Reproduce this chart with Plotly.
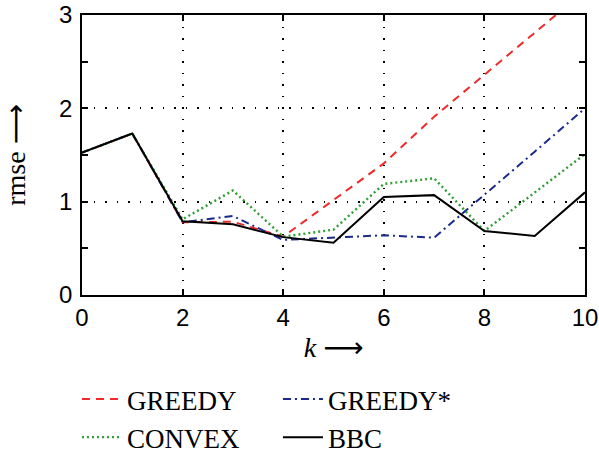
import plotly.graph_objects as go

k = [0, 1, 2, 3, 4, 5, 6, 7, 8, 9, 10]
greedy = [1.525, 1.73, 0.78, 0.785, 0.625, 1.02, 1.41, 1.91, 2.36, 2.80, 3.26]
greedy_star = [1.525, 1.73, 0.78, 0.846, 0.59, 0.618, 0.64, 0.614, 1.07, 1.535, 2.0]
convex = [1.525, 1.73, 0.81, 1.12, 0.625, 0.70, 1.19, 1.25, 0.686, 1.10, 1.51]
bbc = [1.525, 1.73, 0.79, 0.757, 0.62, 0.56, 1.05, 1.07, 0.686, 0.632, 1.10]

names = ["GREEDY", "GREEDY*", "CONVEX", "BBC"]
colors = ["#ee2a2a", "#1a2a8c", "#2e9e35", "#000000"]
dashes = ["8px,6px", "8px,4px,2px,4px", "2px,3px", "solid"]
widths = [2, 2, 2.4, 2]
series = [greedy, greedy_star, convex, bbc]

fig = go.Figure()
for n, y, c, d, w in zip(names, series, colors, dashes, widths):
    fig.add_trace(go.Scatter(x=k, y=y, mode="lines", name=n,
                             line=dict(color=c, dash=d, width=w)))

axis_common = dict(showline=True, linecolor="black", linewidth=1.8, mirror="allticks",
                   ticks="inside", ticklen=6, tickcolor="black", tickwidth=1.5,
                   showgrid=True, gridcolor="black", griddash="1.5px,10px", gridwidth=1.5,
                   zeroline=False, automargin=False,
                   tickfont=dict(family="Liberation Sans", size=24, color="black"))

title_font = dict(family="Liberation Serif, DejaVu Sans", size=28, color="black")

fig.update_xaxes(range=[0, 10], tickvals=[0, 2, 4, 6, 8, 10], **axis_common,
                 title=dict(text="<i>k</i> ⟶", font=title_font, standoff=8))
fig.update_yaxes(range=[0, 3], tickvals=[0, 1, 2, 3], **axis_common, ticklabelstandoff=3,
                 minor=dict(tickvals=[0.5, 1.5, 2.5], ticks="inside", ticklen=6, tickcolor="black",
                            showgrid=False),
                 title=dict(text="rmse ⟶", font=title_font, standoff=51))

fig.update_layout(
    width=599, height=456,
    margin=dict(l=82, r=14, t=15, b=161),
    plot_bgcolor="white", paper_bgcolor="white",
    showlegend=True,
    legend=dict(orientation="h", xref="container", yref="container",
                x=0.1285, y=0.1776, xanchor="left", yanchor="top",
                entrywidth=146, entrywidthmode="pixels",
                font=dict(family="Liberation Serif", size=27, color="black"),
                bgcolor="rgba(0,0,0,0)", tracegroupgap=0, itemwidth=40),
)

fig.write_html("out.html", config={"displayModeBar": False},
               post_script="document.body.style.margin='0';")
